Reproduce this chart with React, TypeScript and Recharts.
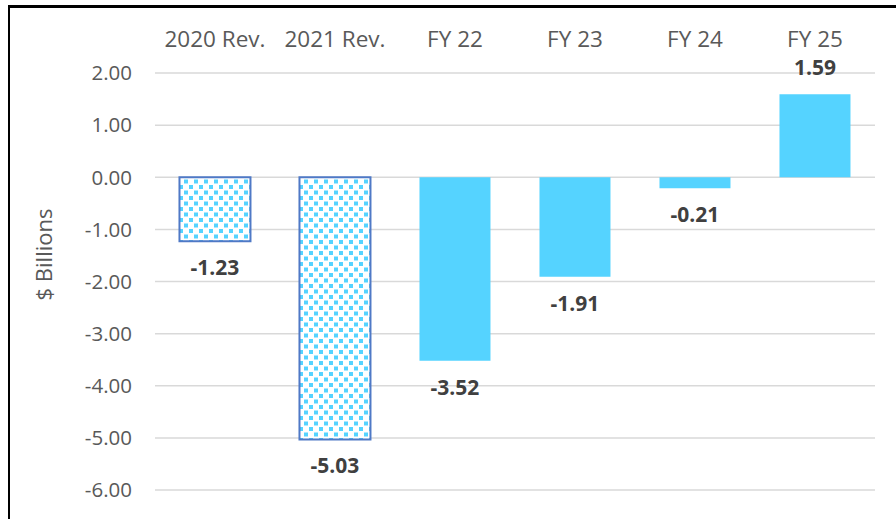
import React from 'react';
import { BarChart, Bar, XAxis, YAxis, CartesianGrid, Cell, LabelList } from 'recharts';

const categories = ['2020 Rev.', '2021 Rev.', 'FY 22', 'FY 23', 'FY 24', 'FY 25'];
const values = [-1.23, -5.03, -3.52, -1.91, -0.21, 1.59];
const patterned = [true, true, false, false, false, false];
const yTicks = [2, 1, 0, -1, -2, -3, -4, -5, -6];

const data = categories.map((name, i) => ({ name, value: values[i], patterned: patterned[i] }));

const FONT = '"Open Sans", sans-serif';
const GREY = '#595959';
const CYAN = '#55D3FF';

const renderYLabel = (props: any) => {
  const vb = props.viewBox || { x: 0, y: 0, width: 0, height: 0 };
  const cx = vb.x + 44;
  const cy = vb.y + vb.height / 2 - 27;
  return (
    <text
      x={cx}
      y={cy}
      transform={`rotate(-90 ${cx} ${cy})`}
      textAnchor="middle"
      fill={GREY}
      fontSize={22}
      fontFamily={FONT}
    >
      $ Billions
    </text>
  );
};

export default function App() {
  return (
    <div style={{ position: 'relative', width: 880, height: 511 }}>
      <BarChart
        width={880}
        height={511}
        data={data}
        margin={{ top: 0, right: 13, bottom: 29, left: 0 }}
        barCategoryGap="20.4%"
      >
        <defs>
          <pattern id="confetti" patternUnits="userSpaceOnUse" width={10} height={11}>
            <rect x={0} y={0} width={10} height={11} fill="#ffffff" />
            <rect x={1} y={1} width={4} height={4} fill={CYAN} />
            <rect x={6} y={6.5} width={4} height={4} fill={CYAN} />
          </pattern>
        </defs>
        <CartesianGrid vertical={false} stroke="#D9D9D9" strokeWidth={1.5} />
        <XAxis
          dataKey="name"
          orientation="top"
          height={65}
          axisLine={false}
          tickLine={false}
          tickSize={0}
          tickMargin={26}
          tick={{ fill: GREY, fontSize: 22.5, fontFamily: FONT }}
          interval={0}
        />
        <YAxis
          width={147}
          domain={[-6, 2]}
          ticks={yTicks}
          axisLine={false}
          tickLine={false}
          tickSize={0}
          tickMargin={23}
          tickFormatter={(v: number) => v.toFixed(2)}
          tick={{ fill: GREY, fontSize: 20.5, fontFamily: FONT }}
          label={renderYLabel}
        />
        <Bar dataKey="value" isAnimationActive={false}>
          {data.map((d, i) => (
            <Cell
              key={i}
              fill={d.patterned ? 'url(#confetti)' : CYAN}
              stroke={d.patterned ? '#4F79C6' : 'none'}
              strokeWidth={d.patterned ? 2 : 0}
            />
          ))}
          <LabelList
            dataKey="value"
            position="top"
            offset={19}
            formatter={(v: any) => Number(v).toFixed(2)}
            fill="#404040"
            fontSize={21}
            fontWeight="bold"
            fontFamily={FONT}
          />
        </Bar>
      </BarChart>
      <div
        style={{
          position: 'fixed',
          left: 8,
          top: 5,
          width: 900,
          height: 3,
          background: '#000',
          zIndex: 10,
          pointerEvents: 'none',
        }}
      />
      <div
        style={{
          position: 'fixed',
          left: 8,
          top: 5,
          width: 2,
          height: 600,
          background: '#000',
          zIndex: 10,
          pointerEvents: 'none',
        }}
      />
    </div>
  );
}
